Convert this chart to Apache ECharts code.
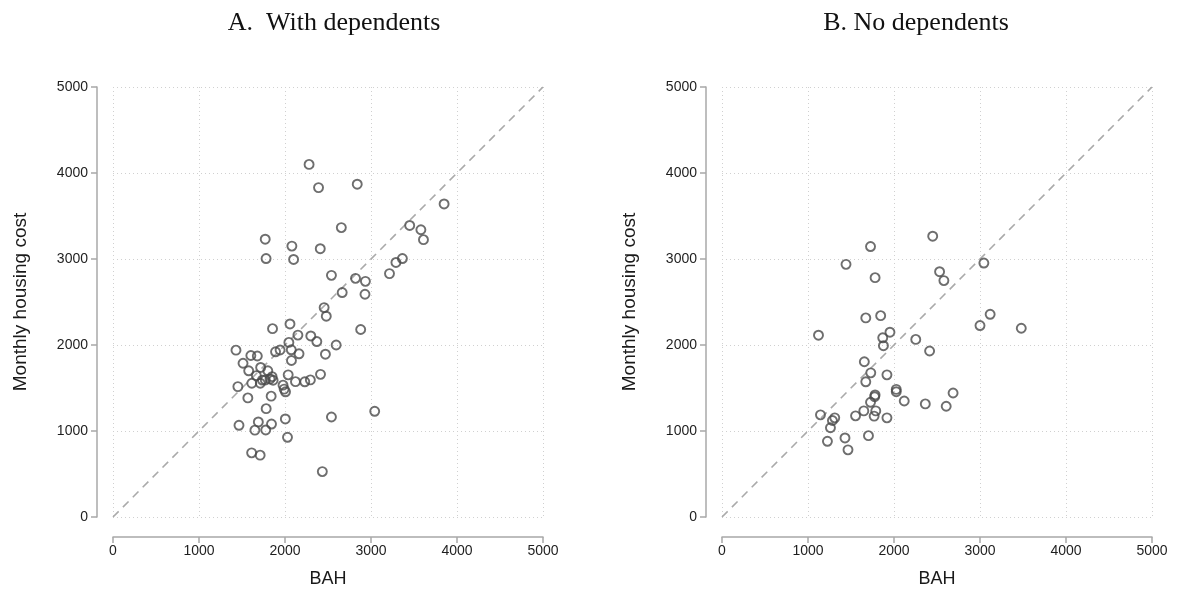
<!DOCTYPE html>
<html>
<head>
<meta charset="utf-8">
<script src="https://cdn.jsdelivr.net/npm/echarts@6/dist/echarts.min.js"></script>
<style>
html,body{margin:0;padding:0;background:#fff;}
#chart{width:1177px;height:592px;}
</style>
</head>
<body>
<div id="chart"></div>
<script>
// Panel titles and axis titles
const panelTitles = ["A.  With dependents", "B. No dependents"];
const xAxisTitle = "BAH";
const yAxisTitle = "Monthly housing cost";
const axisMin = 0, axisMax = 5000, axisStep = 1000;
const diagonal = [[0, 0], [5000, 5000]];

// [BAH, Monthly housing cost]
const withDependents = [
  [2280, 4100], [2390, 3830], [2840, 3870], [3850, 3640], [1770, 3230],
  [2080, 3150], [2410, 3120], [1780, 3005], [2100, 2995], [2655, 3365],
  [3450, 3390], [3580, 3340], [3610, 3225], [3365, 3005], [3290, 2960],
  [3215, 2830], [2540, 2810], [2820, 2775], [2935, 2740], [2665, 2610],
  [2930, 2590], [2455, 2435], [2480, 2335], [2880, 2180], [1855, 2190],
  [2058, 2245], [2150, 2115], [2300, 2105], [2370, 2040], [2595, 2000],
  [2470, 1893], [1430, 1940], [1603, 1878], [1678, 1872], [1890, 1921],
  [1943, 1942], [2045, 2030], [2073, 1944], [2163, 1898], [2075, 1820],
  [1512, 1788], [1578, 1700], [1717, 1739], [1800, 1700], [1667, 1644],
  [1737, 1592], [1826, 1605], [1862, 1590], [1614, 1555], [1713, 1555],
  [1771, 1593], [1850, 1632], [2037, 1653], [2122, 1574], [2230, 1572],
  [2295, 1594], [2413, 1659], [1977, 1533], [1990, 1487], [2006, 1456],
  [1452, 1516], [1568, 1385], [1839, 1405], [1781, 1260], [2540, 1163],
  [2004, 1140], [1465, 1066], [1690, 1105], [1843, 1081], [1650, 1010],
  [1776, 1012], [2029, 927], [1612, 746], [1711, 719], [2434, 528],
  [3043, 1229]
];
const noDependents = [
  [2450, 3265], [1727, 3145], [1442, 2938], [1780, 2783], [2530, 2852],
  [2580, 2749], [3045, 2953], [3118, 2357], [3000, 2226], [3480, 2195],
  [1672, 2315], [1845, 2341], [1122, 2114], [1953, 2149], [1869, 2084],
  [1877, 1992], [2253, 2065], [2414, 1930], [1655, 1805], [1730, 1676],
  [1918, 1653], [1672, 1572], [2026, 1484], [2026, 1457], [1780, 1419],
  [1775, 1399], [2119, 1349], [2364, 1315], [2607, 1288], [2687, 1442],
  [1727, 1334], [1649, 1234], [1788, 1234], [1769, 1173], [1918, 1153],
  [1553, 1176], [1145, 1188], [1311, 1153], [1284, 1122], [1261, 1038],
  [1226, 880], [1430, 919], [1703, 946], [1465, 781]
];

const chart = echarts.init(document.getElementById('chart'), null, {renderer: 'canvas'});
const labelFont = 'Liberation Sans, Arial, Helvetica, sans-serif';
const axisColor = '#a8a8a8';
const plain = v => String(v);
function xAx(i) {
  return {
    gridIndex: i, type: 'value', min: axisMin, max: axisMax, interval: axisStep,
    offset: 20, name: xAxisTitle, nameLocation: 'middle', nameGap: 33,
    nameTextStyle: {fontFamily: labelFont, fontSize: 18, color: '#1a1a1a'},
    axisLine: {show: true, onZero: false, lineStyle: {color: axisColor, width: 1.5}},
    axisTick: {show: true, length: 6, lineStyle: {color: axisColor, width: 1.5}},
    axisLabel: {fontFamily: labelFont, fontSize: 14, color: '#1e1e1e', margin: 7, formatter: plain},
    splitLine: {show: true, lineStyle: {color: '#d0d0d0', type: [1, 3], width: 1}}
  };
}
function yAx(i) {
  return {
    gridIndex: i, type: 'value', min: axisMin, max: axisMax, interval: axisStep,
    offset: 16, name: yAxisTitle, nameLocation: 'middle', nameGap: 67,
    nameTextStyle: {fontFamily: labelFont, fontSize: 19, color: '#1a1a1a'},
    axisLine: {show: true, onZero: false, lineStyle: {color: axisColor, width: 1.5}},
    axisTick: {show: true, length: 6, lineStyle: {color: axisColor, width: 1.5}},
    axisLabel: {fontFamily: labelFont, fontSize: 14, color: '#1e1e1e', margin: 9, formatter: plain},
    splitLine: {show: true, lineStyle: {color: '#d0d0d0', type: [1, 3], width: 1}}
  };
}
function scatter(i, data) {
  return {
    type: 'scatter', xAxisIndex: i, yAxisIndex: i, data: data,
    symbol: 'circle', symbolSize: 9, z: 3,
    itemStyle: {color: 'rgba(0,0,0,0)', borderColor: '#4a4a4a', borderWidth: 1.9}
  };
}
function diag(i) {
  return {
    type: 'line', xAxisIndex: i, yAxisIndex: i, data: diagonal,
    symbol: 'none', silent: true, z: 2,
    lineStyle: {color: '#aaaaaa', width: 1.6, type: [8, 6]}
  };
}
chart.setOption({
  animation: false,
  backgroundColor: '#fff',
  title: [
    {text: panelTitles[0], left: 329, top: 5, textAlign: 'center',
     textStyle: {fontFamily: 'Liberation Serif, Times New Roman, serif', fontSize: 26, fontWeight: 'normal', color: '#111'}},
    {text: panelTitles[1], left: 911, top: 5, textAlign: 'center',
     textStyle: {fontFamily: 'Liberation Serif, Times New Roman, serif', fontSize: 26, fontWeight: 'normal', color: '#111'}}
  ],
  grid: [
    {left: 113, top: 87, width: 430, height: 430, containLabel: false, outerBoundsMode: 'none'},
    {left: 722, top: 87, width: 430, height: 430, containLabel: false, outerBoundsMode: 'none'}
  ],
  xAxis: [xAx(0), xAx(1)],
  yAxis: [yAx(0), yAx(1)],
  series: [diag(0), scatter(0, withDependents), diag(1), scatter(1, noDependents)]
});
</script>
</body>
</html>
